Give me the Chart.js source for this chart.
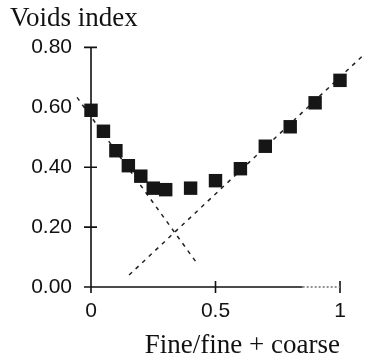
<!DOCTYPE html>
<html>
<head>
<meta charset="utf-8">
<script src="https://cdn.jsdelivr.net/npm/chart.js@4.4.1/dist/chart.umd.min.js"></script>
<style>
  html, body { margin: 0; padding: 0; background: #fff; }
  #mychart { display: block; }
</style>
</head>
<body>
<canvas id="mychart" width="369" height="360"></canvas>
<script>
// fine fraction vs voids index
const fineRatio = [0, 0.05, 0.1, 0.15, 0.2, 0.25, 0.3, 0.4, 0.5, 0.6, 0.7, 0.8, 0.9, 1.0];
const voidsIndex = [0.59, 0.52, 0.455, 0.405, 0.37, 0.33, 0.325, 0.33, 0.355, 0.395, 0.47, 0.535, 0.615, 0.69];

// the two dashed guide lines (end points)
const coarseLineX = [-0.056, 0.431];
const coarseLineY = [0.633, 0.073];
const fineLineX = [0.153, 1.10];
const fineLineY = [0.04, 0.779];

const xTicks = [0, 0.5, 1];
const yTicks = [0, 0.2, 0.4, 0.6, 0.8];

const toPoints = (xs, ys) => xs.map((x, i) => ({ x: x, y: ys[i] }));

// axis lines with ticks crossing both sides
const axesPlugin = {
    id: 'crossAxes',
    beforeDatasetsDraw(chart) {
        const ctx = chart.ctx;
        const xs = chart.scales.x;
        const ys = chart.scales.y;
        const x0 = xs.getPixelForValue(0);
        const y0 = ys.getPixelForValue(0);
        const xFade = xs.getPixelForValue(0.85);
        const x1 = xs.getPixelForValue(1);
        ctx.save();
        ctx.strokeStyle = '#111';
        ctx.lineWidth = 1.6;
        ctx.beginPath();
        ctx.moveTo(x0, ys.getPixelForValue(0.8));
        ctx.lineTo(x0, y0);
        ctx.lineTo(xFade, y0);
        yTicks.forEach(v => {
            const p = ys.getPixelForValue(v);
            ctx.moveTo(x0 - 7, p);
            ctx.lineTo(x0 + 6, p);
        });
        xTicks.forEach(v => {
            const p = xs.getPixelForValue(v);
            ctx.moveTo(p, y0 - 6);
            ctx.lineTo(p, y0 + 6);
        });
        ctx.stroke();
        // last stretch of the x axis is printed faint and broken
        ctx.beginPath();
        ctx.strokeStyle = '#777';
        ctx.setLineDash([2, 2]);
        ctx.moveTo(xFade, y0);
        ctx.lineTo(x1, y0);
        ctx.stroke();
        ctx.restore();
    }
};

const serif = "'Liberation Serif', 'Times New Roman', serif";
const sans = "'Liberation Sans', Arial, sans-serif";

const ctx = document.getElementById('mychart');
const myChart = new Chart(ctx, {
    data: {
        datasets: [
            {
                type: 'scatter',
                data: toPoints(fineRatio, voidsIndex),
                pointStyle: 'rect',
                pointRadius: 9.5,
                pointBorderWidth: 0,
                backgroundColor: '#161616',
                borderColor: '#161616',
                clip: false,
                order: 0
            },
            {
                type: 'line',
                data: toPoints(coarseLineX, coarseLineY),
                borderColor: '#222',
                borderWidth: 1.5,
                borderDash: [4, 5],
                pointRadius: 0,
                clip: false,
                order: 1
            },
            {
                type: 'line',
                data: toPoints(fineLineX, fineLineY),
                borderColor: '#222',
                borderWidth: 1.5,
                borderDash: [4, 5],
                pointRadius: 0,
                clip: false,
                order: 1
            }
        ]
    },
    plugins: [axesPlugin],
    options: {
        responsive: false,
        animation: false,
        events: [],
        layout: {
            padding: { left: 10, right: 29, top: 3, bottom: 0 }
        },
        scales: {
            x: {
                type: 'linear',
                min: 0,
                max: 1,
                grid: { display: false },
                border: { display: false },
                afterBuildTicks: scale => {
                    scale.ticks = xTicks.map(v => ({ value: v }));
                },
                ticks: {
                    padding: 4,
                    color: '#111',
                    font: { family: sans, size: 21 },
                    maxRotation: 0,
                    callback: v => String(v)
                },
                title: {
                    display: true,
                    text: 'Fine/fine + coarse',
                    align: 'end',
                    color: '#111',
                    font: { family: serif, size: 27 },
                    padding: { top: 16, bottom: -2 }
                },
                afterFit: scale => { scale.height = 73; }
            },
            y: {
                type: 'linear',
                min: 0,
                max: 0.8,
                grid: { display: false },
                border: { display: false },
                afterBuildTicks: scale => {
                    scale.ticks = yTicks.map(v => ({ value: v }));
                },
                ticks: {
                    padding: 11,
                    color: '#111',
                    font: { family: sans, size: 21 },
                    callback: v => v.toFixed(2)
                },
                afterFit: scale => { scale.width = 81; }
            }
        },
        plugins: {
            legend: { display: false },
            tooltip: { enabled: false },
            title: {
                display: true,
                text: 'Voids index',
                align: 'start',
                color: '#111',
                font: { family: serif, size: 27, weight: 'normal' },
                padding: { top: 0, bottom: 12 }
            }
        }
    }
});
</script>
</body>
</html>
